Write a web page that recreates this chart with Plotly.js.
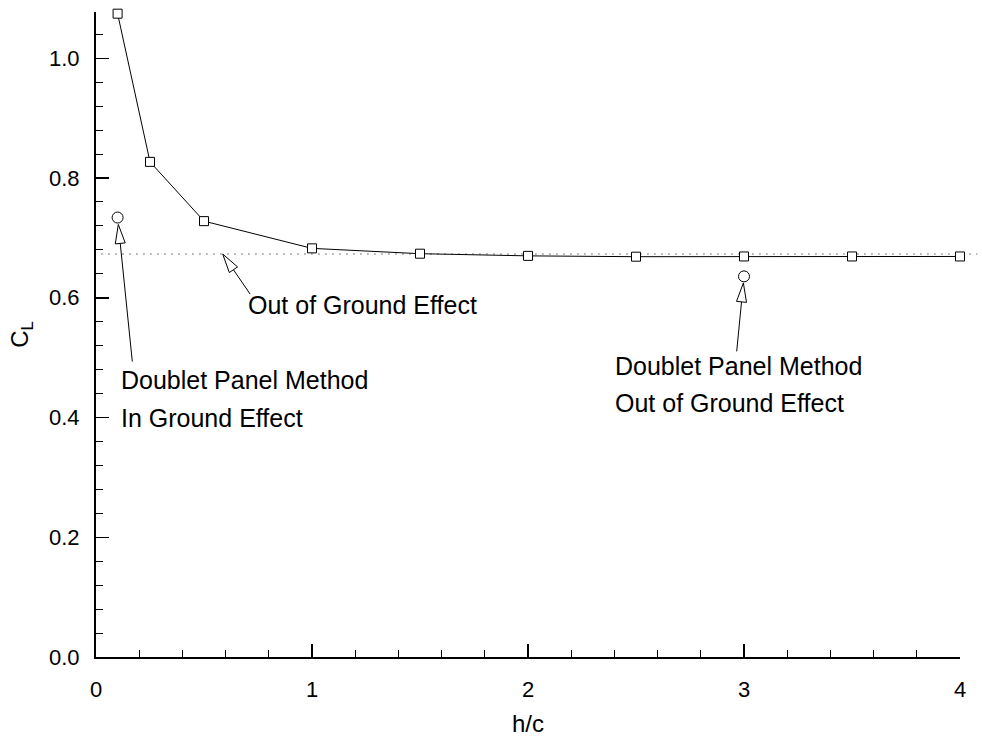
<!DOCTYPE html>
<html>
<head>
<meta charset="utf-8">
<script src="https://cdn.plot.ly/plotly-3.0.1.min.js"></script>
<style>html,body{margin:0;padding:0;background:#fff;}#chart{width:982px;height:738px;}</style>
</head>
<body>
<div id="chart"></div>
<script>
// Data
const hc = [0.1, 0.25, 0.5, 1, 1.5, 2, 2.5, 3, 3.5, 4];
const cl = [1.0745, 0.827, 0.728, 0.6825, 0.6736, 0.670, 0.6686, 0.669, 0.669, 0.669];
const dpmX = [0.1, 3];
const dpmY = [0.734, 0.6357];
const clOutOfGround = 0.673;
const xTicks = [0, 1, 2, 3, 4];
const xTickLabels = ['0', '1', '2', '3', '4'];
const yTicks = [0, 0.2, 0.4, 0.6, 0.8, 1.0];
const yTickLabels = ['0.0', '0.2', '0.4', '0.6', '0.8', '1.0'];

const FONT = 'Liberation Sans, Arial, sans-serif';

const traces = [
  {
    x: hc, y: cl, type: 'scatter', mode: 'lines+markers',
    line: {color: 'black', width: 1},
    marker: {symbol: 'square', size: 9, color: 'white', line: {color: 'black', width: 1}},
    cliponaxis: false, showlegend: false, hoverinfo: 'skip'
  },
  {
    x: dpmX, y: dpmY, type: 'scatter', mode: 'markers',
    marker: {symbol: 'circle', size: 11, color: 'white', line: {color: 'black', width: 1}},
    cliponaxis: false, showlegend: false, hoverinfo: 'skip'
  }
];

// arrows: open triangle head + shaft, built in pixel space around a data anchor
const HL = 19, HW = 10;
function arrowShapes(xd, yd, ax, ay, offset) {
  const L = Math.hypot(ax, ay);
  const ux = ax / L, uy = ay / L;
  const px = -uy, py = ux;
  const tip = [offset * ux, offset * uy];
  const bc = [(offset + HL) * ux, (offset + HL) * uy];
  const c1 = [bc[0] + px * HW / 2, bc[1] + py * HW / 2];
  const c2 = [bc[0] - px * HW / 2, bc[1] - py * HW / 2];
  const f = p => p[0].toFixed(2) + ',' + (-p[1]).toFixed(2);
  const base = {xref: 'x', yref: 'y', xsizemode: 'pixel', ysizemode: 'pixel', xanchor: xd, yanchor: yd, layer: 'above'};
  return [
    Object.assign({}, base, {type: 'line', x0: bc[0], y0: -bc[1], x1: ax, y1: -ay, line: {color: 'black', width: 1}}),
    Object.assign({}, base, {type: 'path', path: 'M' + f(tip) + ' L' + f(c1) + ' L' + f(c2) + ' Z',
      fillcolor: 'white', line: {color: 'black', width: 1}})
  ];
}
const arrows = [
  {x: dpmX[0], y: dpmY[0], ax: 14.7, ay: 144, off: 7},
  {x: 0.5866, y: clOutOfGround, ax: 27.4, ay: 40, off: 0},
  {x: dpmX[1], y: dpmY[1], ax: -7.3, ay: 75, off: 6.6}
];

const shapes = [
  {type: 'line', xref: 'paper', yref: 'y', x0: 0.006, x1: 1.02, y0: clOutOfGround, y1: clOutOfGround,
   line: {color: '#8c8c8c', width: 1.5, dash: '1.5px,5.5px'}, layer: 'below'}
];
arrows.forEach(a => arrowShapes(a.x, a.y, a.ax, a.ay, a.off).forEach(s => shapes.push(s)));

const txt = (x, y, t) => ({x: x, y: y, xref: 'x', yref: 'y', text: t, showarrow: false,
  xanchor: 'left', yanchor: 'middle', font: {family: FONT, size: 25, color: 'black'}});

const annotations = [
  txt(0.105, 0.463, 'Doublet Panel Method'),
  txt(0.105, 0.399, 'In Ground Effect'),
  txt(0.695, 0.588, 'Out of Ground Effect'),
  txt(2.392, 0.4866, 'Doublet Panel Method'),
  txt(2.392, 0.424, 'Out of Ground Effect')
];

const layout = {
  width: 982, height: 738,
  margin: {l: 96, r: 22, t: 12, b: 81},
  paper_bgcolor: 'white', plot_bgcolor: 'white',
  font: {family: FONT, color: 'black'},
  showlegend: false,
  xaxis: {
    range: [0, 4], tickvals: xTicks, ticktext: xTickLabels,
    showgrid: false, zeroline: false, showline: true, linecolor: 'black', linewidth: 2,
    ticks: 'inside', ticklen: 13, tickwidth: 1.5, tickcolor: 'black',
    minor: {dtick: 0.2, ticks: 'inside', ticklen: 7, tickwidth: 1, tickcolor: 'black', showgrid: false},
    tickfont: {family: FONT, size: 22, color: 'black'}, ticklabelstandoff: 12,
    title: {text: 'h/c', font: {family: FONT, size: 24, color: 'black'}, standoff: 14}
  },
  yaxis: {
    range: [0, 1.0773], tickvals: yTicks, ticktext: yTickLabels,
    showgrid: false, zeroline: false, showline: true, linecolor: 'black', linewidth: 2,
    ticks: 'inside', ticklen: 13, tickwidth: 1.5, tickcolor: 'black',
    minor: {dtick: 0.04, ticks: 'inside', ticklen: 7, tickwidth: 1, tickcolor: 'black', showgrid: false},
    tickfont: {family: FONT, size: 22, color: 'black'}, ticklabelstandoff: 10,
    title: {text: 'C<sub>L</sub>', font: {family: FONT, size: 24, color: 'black'}, standoff: 14}
  },
  shapes: shapes,
  annotations: annotations
};

Plotly.newPlot('chart', traces, layout, {displayModeBar: false, staticPlot: true});
</script>
</body>
</html>
